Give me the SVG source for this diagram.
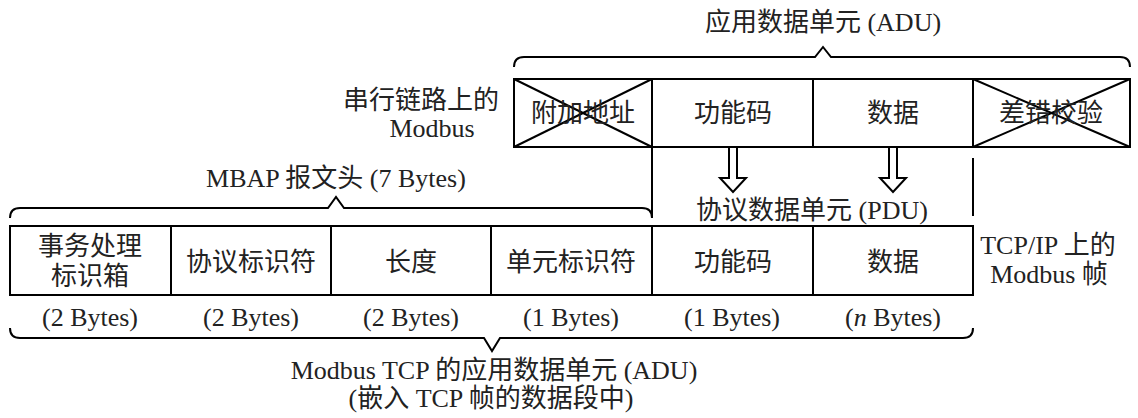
<svg xmlns="http://www.w3.org/2000/svg" width="1138" height="418" viewBox="0 0 1138 418">
<style>
.box{fill:#fff;stroke:#000;stroke-width:2}
.ln{fill:none;stroke:#000;stroke-width:2}
.t{font-family:"Liberation Serif","Noto Sans CJK SC",serif;font-size:26px;fill:#222;text-anchor:middle}
.arr{fill:#fff;stroke:#000;stroke-width:2;stroke-linejoin:miter}
</style>
<rect width="1138" height="418" fill="#fff"/>
<g id="adu-title"><text class="t" x="823" y="31">应用数据单元 (ADU)</text></g>
<g id="serial-label"><text class="t" x="421" y="109">串行链路上的</text><text class="t" x="432" y="137">Modbus</text></g>
<g id="serial-frame">
<rect class="box" x="514" y="79" width="616" height="68"/>
<g id="s-addr"><line class="ln" x1="514" y1="79" x2="652" y2="147"/><line class="ln" x1="514" y1="147" x2="652" y2="79"/><text class="t" x="583" y="122">附加地址</text><line class="ln" x1="652" y1="79" x2="652" y2="147"/></g>
<g id="s-func"><text class="t" x="733" y="122">功能码</text><line class="ln" x1="813" y1="79" x2="813" y2="147"/></g>
<g id="s-data"><text class="t" x="893" y="122">数据</text><line class="ln" x1="973" y1="79" x2="973" y2="147"/></g>
<g id="s-crc"><line class="ln" x1="973" y1="79" x2="1130" y2="147"/><line class="ln" x1="973" y1="147" x2="1130" y2="79"/><text class="t" x="1051" y="122">差错校验</text></g>
</g>
<g id="mbap-title"><text class="t" x="336" y="187">MBAP 报文头 (7 Bytes)</text></g>
<g id="pdu-title"><text class="t" x="812" y="219">协议数据单元 (PDU)</text></g>
<g id="tcp-frame">
<rect class="box" x="10" y="226" width="963" height="69"/>
<g id="t-trans"><text class="t" x="90" y="255">事务处理</text><text class="t" x="90" y="285">标识箱</text><line class="ln" x1="171" y1="226" x2="171" y2="295"/></g>
<g id="t-proto"><text class="t" x="251" y="271">协议标识符</text><line class="ln" x1="331" y1="226" x2="331" y2="295"/></g>
<g id="t-len"><text class="t" x="411" y="271">长度</text><line class="ln" x1="491" y1="226" x2="491" y2="295"/></g>
<g id="t-unit"><text class="t" x="571" y="271">单元标识符</text><line class="ln" x1="652" y1="226" x2="652" y2="295"/></g>
<g id="t-func"><text class="t" x="733" y="271">功能码</text><line class="ln" x1="813" y1="226" x2="813" y2="295"/></g>
<g id="t-data"><text class="t" x="893" y="271">数据</text></g>
</g>
<g id="tcp-label"><text class="t" x="1048" y="254">TCP/IP 上的</text><text class="t" x="1049" y="283">Modbus 帧</text></g>
<g id="bytes">
<text class="t" x="90" y="326">(2 Bytes)</text>
<text class="t" x="251" y="326">(2 Bytes)</text>
<text class="t" x="411" y="326">(2 Bytes)</text>
<text class="t" x="571" y="326">(1 Bytes)</text>
<text class="t" x="732" y="326">(1 Bytes)</text>
<text class="t" x="893" y="326">(<tspan font-style="italic">n</tspan> Bytes)</text>
</g>
<g id="tcp-adu-title"><text class="t" x="494" y="379">Modbus TCP 的应用数据单元 (ADU)</text><text class="t" x="491" y="407">(嵌入 TCP 帧的数据段中)</text></g>
<g id="connectors">
<path class="ln" d="M514,67 Q514,57 524,57 L815,57 L823,47 L831,57 L1120,57 Q1130,57 1130,67"/>
<path class="ln" d="M10,218 Q10,208 20,208 L328,208 L336,197 L344,208 L642,208 Q652,208 652,218"/>
<line class="ln" x1="652" y1="147" x2="652" y2="218"/>
<line class="ln" x1="973" y1="158" x2="973" y2="216"/>
<path class="ln" d="M10,328 Q10,338 20,338 L484,338 L492,351 L500,338 L963,338 Q973,338 973,328"/>
<path class="arr" d="M729,148 L729,178 L720,178 L733,192 L746,178 L737,178 L737,148"/>
<path class="arr" d="M889,148 L889,178 L880,178 L893,192 L906,178 L897,178 L897,148"/>
</g>
</svg>
